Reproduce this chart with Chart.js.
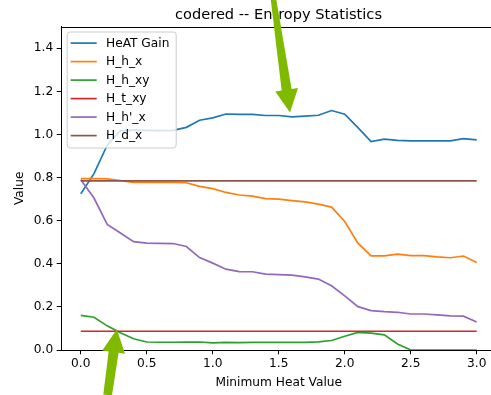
<!DOCTYPE html>
<html>
<head>
<meta charset="utf-8">
<script src="https://cdn.jsdelivr.net/npm/chart.js@4"></script>
<style>
  html, body { margin: 0; padding: 0; overflow: hidden; background: #fff; }
</style>
</head>
<body>
<canvas id="chart" width="520" height="395"></canvas>
<script>
const heatValues = [0.0, 0.1, 0.2, 0.3, 0.4, 0.5, 0.6, 0.7, 0.8, 0.9, 1.0,
  1.1, 1.2, 1.3, 1.4, 1.5, 1.6, 1.7, 1.8, 1.9, 2.0,
  2.1, 2.2, 2.3, 2.4, 2.5, 2.6, 2.7, 2.8, 2.9, 3.0];

const heatGain = [0.725, 0.818, 0.950, 1.018, 1.020, 1.019, 1.018, 1.019, 1.033, 1.066, 1.077,
  1.095, 1.093, 1.093, 1.088, 1.088, 1.082, 1.085, 1.089, 1.111, 1.094,
  1.032, 0.967, 0.978, 0.973, 0.970, 0.970, 0.970, 0.970, 0.981, 0.975];
const hHX = [0.795, 0.795, 0.794, 0.786, 0.778, 0.778, 0.778, 0.778, 0.776, 0.759, 0.749,
  0.731, 0.719, 0.714, 0.702, 0.700, 0.693, 0.687, 0.677, 0.663, 0.596,
  0.496, 0.437, 0.437, 0.445, 0.438, 0.438, 0.432, 0.428, 0.436, 0.406];
const hHXY = [0.161, 0.152, 0.112, 0.080, 0.052, 0.037, 0.036, 0.036, 0.037, 0.037, 0.033,
  0.035, 0.034, 0.035, 0.035, 0.035, 0.035, 0.035, 0.038, 0.044, 0.064,
  0.082, 0.078, 0.070, 0.028, 0.0, 0.0, 0.0, 0.0, 0.0, 0.0];
const hTXY = heatValues.map(() => 0.087);
const hPrimeX = [0.790, 0.705, 0.583, 0.543, 0.503, 0.496, 0.495, 0.494, 0.480, 0.429, 0.403,
  0.375, 0.364, 0.363, 0.352, 0.350, 0.347, 0.339, 0.329, 0.298, 0.251,
  0.201, 0.183, 0.178, 0.175, 0.167, 0.167, 0.163, 0.158, 0.157, 0.130];
const hDX = heatValues.map(() => 0.785);

const seriesNames = ['HeAT Gain', 'H_h_x', 'H_h_xy', 'H_t_xy', "H_h'_x", 'H_d_x'];
const seriesValues = [heatGain, hHX, hHXY, hTXY, hPrimeX, hDX];
const seriesColors = ['#1f77b4', '#ff7f0e', '#2ca02c', '#d62728', '#9467bd', '#8c564b'];

const xTicks = [0.0, 0.5, 1.0, 1.5, 2.0, 2.5, 3.0];
const yTicks = [0.0, 0.2, 0.4, 0.6, 0.8, 1.0, 1.2, 1.4];

const FONT = 'DejaVu Sans';
const SIZE = 12.2;

// annotation arrows, in data coordinates
const arrows = [
  { from: [1.46, 1.627], to: [1.585, 1.102], tailWidth: 5.5 },
  { from: [0.203, -0.209], to: [0.273, 0.096], tailWidth: 8.7 },
];

const datasets = seriesNames.map((name, i) => ({
  label: name,
  data: heatValues.map((x, j) => ({ x: x, y: seriesValues[i][j] })),
  borderColor: seriesColors[i],
  backgroundColor: seriesColors[i],
  borderWidth: 1.7,
  pointRadius: 0,
  tension: 0,
  fill: false,
  order: seriesNames.length - i,
}));

const decorations = {
  id: 'decorations',
  afterDatasetsDraw(chart) {
    const ctx = chart.ctx;
    const a = chart.chartArea;
    ctx.save();
    // top spine
    ctx.strokeStyle = '#000';
    ctx.lineWidth = 1;
    ctx.beginPath();
    ctx.moveTo(a.left, Math.round(a.top) + 0.5);
    ctx.lineTo(a.right, Math.round(a.top) + 0.5);
    ctx.stroke();

    // legend
    const lx = a.left + 5.7, ly = a.top + 4.8, lw = 109, lh = 116;
    ctx.beginPath();
    ctx.roundRect(lx + 0.5, ly + 0.5, lw, lh, 3);
    ctx.fillStyle = 'rgba(255,255,255,0.8)';
    ctx.fill();
    ctx.strokeStyle = '#cccccc';
    ctx.lineWidth = 1;
    ctx.stroke();
    ctx.font = SIZE + 'px "' + FONT + '"';
    ctx.textBaseline = 'middle';
    ctx.textAlign = 'left';
    seriesNames.forEach((name, i) => {
      const y = ly + 11.6 + i * 18.5;
      ctx.strokeStyle = seriesColors[i];
      ctx.lineWidth = 1.7;
      ctx.beginPath();
      ctx.moveTo(lx + 4, y);
      ctx.lineTo(lx + 30, y);
      ctx.stroke();
      ctx.fillStyle = '#000';
      ctx.fillText(name, lx + 39.3, y + 0.5);
    });

    // title
    ctx.font = '14.6px "' + FONT + '"';
    ctx.textAlign = 'center';
    ctx.textBaseline = 'alphabetic';
    ctx.fillStyle = '#000';
    ctx.fillText('codered -- Entropy Statistics', 278.5, 19);
    ctx.restore();
  },
  afterDraw(chart) {
    const ctx = chart.ctx;
    const xs = chart.scales.x, ys = chart.scales.y;
    ctx.save();
    ctx.fillStyle = '#7fba00';
    arrows.forEach((arw) => {
      const tx = xs.getPixelForValue(arw.from[0]), ty = ys.getPixelForValue(arw.from[1]);
      const hx = xs.getPixelForValue(arw.to[0]), hy = ys.getPixelForValue(arw.to[1]);
      const len = Math.hypot(hx - tx, hy - ty);
      const ux = (hx - tx) / len, uy = (hy - ty) / len;
      const nx = -uy, ny = ux;
      const headLen = 23, headHalf = 11.5, neckHalf = 5;
      const bx = hx - ux * headLen, by = hy - uy * headLen;
      const tw = arw.tailWidth / 2;
      ctx.beginPath();
      ctx.moveTo(tx + nx * tw, ty + ny * tw);
      ctx.lineTo(bx + nx * neckHalf, by + ny * neckHalf);
      ctx.lineTo(bx + nx * headHalf, by + ny * headHalf);
      ctx.lineTo(hx, hy);
      ctx.lineTo(bx - nx * headHalf, by - ny * headHalf);
      ctx.lineTo(bx - nx * neckHalf, by - ny * neckHalf);
      ctx.lineTo(tx - nx * tw, ty - ny * tw);
      ctx.closePath();
      ctx.fill();
    });
    ctx.restore();
  },
};

new Chart(document.getElementById('chart'), {
  type: 'line',
  data: { datasets: datasets },
  options: {
    responsive: false,
    animation: false,
    events: [],
    layout: { padding: { top: 26.7, right: 23.5, left: 0, bottom: 0 } },
    plugins: {
      legend: { display: false },
      title: { display: false },
      tooltip: { enabled: false },
    },
    scales: {
      x: {
        type: 'linear',
        min: -0.15,
        max: 3.15,
        afterFit: (s) => { s.height = 45; },
        afterBuildTicks: (s) => { s.ticks = xTicks.map((v) => ({ value: v })); },
        ticks: {
          color: '#000',
          font: { family: FONT, size: SIZE },
          padding: 2,
          maxRotation: 0,
          callback: (v) => v.toFixed(1),
        },
        grid: { drawOnChartArea: false, drawTicks: true, tickLength: 4.3, color: '#000' },
        border: { color: '#000', width: 1 },
        title: {
          display: true,
          text: 'Minimum Heat Value',
          color: '#000',
          font: { family: FONT, size: SIZE },
          padding: { top: 0, bottom: 5.2 },
        },
      },
      y: {
        type: 'linear',
        min: 0,
        max: 1.5,
        afterFit: (s) => { s.width = 61; },
        afterBuildTicks: (s) => { s.ticks = yTicks.map((v) => ({ value: v })); },
        ticks: {
          color: '#000',
          font: { family: FONT, size: SIZE },
          padding: 3.5,
          callback: (v) => v.toFixed(1),
        },
        grid: { drawOnChartArea: false, drawTicks: true, tickLength: 4.3, color: '#000' },
        border: { color: '#000', width: 1 },
        title: {
          display: true,
          text: 'Value',
          color: '#000',
          font: { family: FONT, size: SIZE },
          padding: { top: 12.2, bottom: 0 },
        },
      },
    },
  },
  plugins: [decorations],
});
</script>
</body>
</html>
